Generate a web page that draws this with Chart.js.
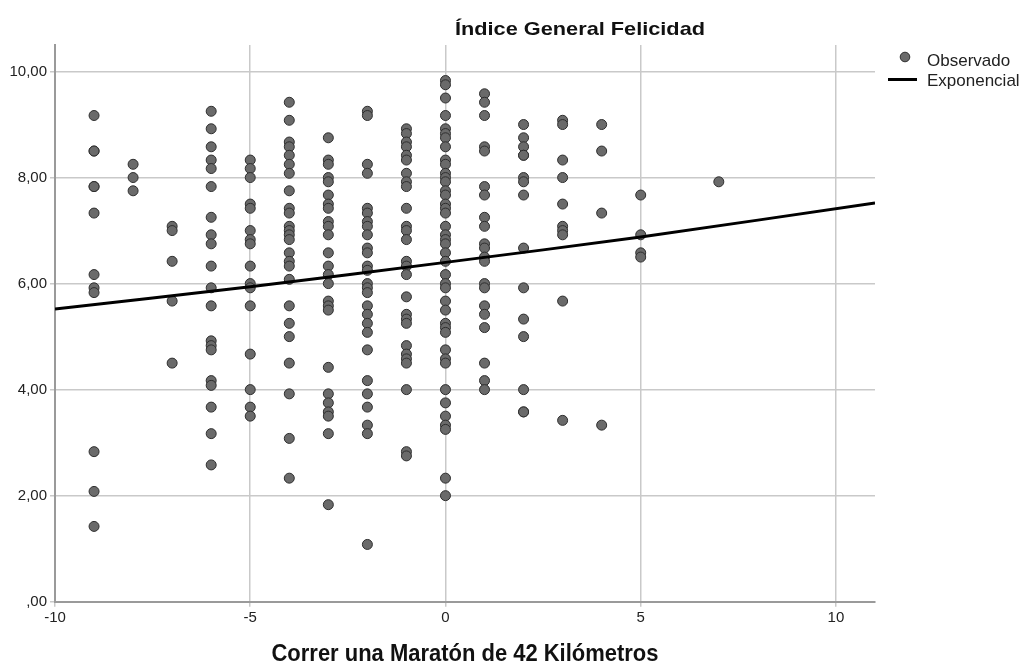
<!DOCTYPE html>
<html><head><meta charset="utf-8">
<script src="https://cdn.jsdelivr.net/npm/chart.js@4.4.0/dist/chart.umd.min.js"></script>
<style>html,body{margin:0;padding:0;background:#fff;}#wrap{width:1028px;height:671px;}</style>
</head><body><div id="wrap"><canvas id="c" width="1028" height="671"></canvas></div>
<script>
// ---- DATA ----
const xColumns = [-9, -8, -7, -6, -5, -4, -3, -2, -1, 0, 1, 2, 3, 4, 5, 7];
const happyM9 = [9.17, 8.5, 8.5, 7.83, 7.83, 7.33, 6.17, 5.92, 5.83, 2.83, 2.08, 1.42];
const happyM8 = [8.25, 8.0, 7.75];
const happyM7 = [7.08, 7.0, 6.42, 5.67, 4.5];
const happyM6 = [9.25, 8.92, 8.58, 8.33, 8.17, 7.83, 7.25, 6.92, 6.75, 6.33, 5.92, 5.58, 4.92, 4.83, 4.75, 4.17, 4.08, 3.67, 3.17, 2.58];
const happyM5 = [8.33, 8.17, 8.0, 7.5, 7.42, 7.0, 6.83, 6.75, 6.33, 6.0, 5.92, 5.58, 4.67, 4.0, 3.67, 3.5];
const happyM4 = [9.42, 9.08, 8.67, 8.58, 8.42, 8.25, 8.08, 7.75, 7.42, 7.33, 7.08, 7.0, 6.92, 6.83, 6.58, 6.42, 6.33, 6.08, 5.58, 5.25, 5.0, 4.5, 3.92, 3.08, 2.33];
const happyM3 = [8.75, 8.33, 8.25, 8.0, 7.92, 7.67, 7.5, 7.42, 7.17, 7.08, 6.92, 6.58, 6.33, 6.17, 6.0, 5.67, 5.58, 5.5, 4.42, 3.92, 3.75, 3.58, 3.5, 3.17, 1.83];
const happyM2 = [9.25, 9.17, 8.25, 8.08, 7.42, 7.33, 7.17, 7.08, 6.92, 6.67, 6.58, 6.33, 6.25, 6.0, 5.92, 5.83, 5.58, 5.42, 5.25, 5.08, 4.75, 4.17, 3.92, 3.67, 3.33, 3.17, 1.08];
const happyM1 = [8.92, 8.83, 8.67, 8.58, 8.42, 8.33, 8.08, 7.92, 7.83, 7.42, 7.08, 7.0, 6.83, 6.42, 6.33, 6.17, 5.75, 5.42, 5.33, 5.25, 4.83, 4.67, 4.58, 4.5, 4.0, 2.83, 2.75];
const happy0 = [9.83, 9.75, 9.5, 9.17, 8.92, 8.83, 8.75, 8.58, 8.33, 8.25, 8.08, 8.0, 7.92, 7.75, 7.67, 7.5, 7.42, 7.33, 7.08, 6.92, 6.83, 6.75, 6.58, 6.42, 6.17, 6.0, 5.92, 5.67, 5.5, 5.25, 5.17, 5.08, 4.75, 4.58, 4.5, 4.0, 3.75, 3.5, 3.33, 3.25, 2.33, 2.0];
const happyP1 = [9.58, 9.42, 9.17, 8.58, 8.5, 7.83, 7.67, 7.25, 7.08, 6.75, 6.67, 6.5, 6.42, 6.0, 5.92, 5.58, 5.42, 5.17, 4.5, 4.17, 4.0];
const happyP2 = [9.0, 8.75, 8.58, 8.42, 8.42, 8.0, 7.92, 7.67, 6.67, 5.92, 5.33, 5.0, 4.0, 3.58, 3.58];
const happyP3 = [9.08, 9.0, 8.33, 8.0, 7.5, 7.08, 7.0, 6.92, 5.67, 3.42];
const happyP4 = [9.0, 8.5, 7.33, 3.33];
const happyP5 = [7.67, 6.92, 6.58, 6.5];
const happyP7 = [7.92];
const columnValues = [happyM9, happyM8, happyM7, happyM6, happyM5, happyM4, happyM3, happyM2, happyM1, happy0, happyP1, happyP2, happyP3, happyP4, happyP5, happyP7];

const trendX = [-10, -5, 0, 5, 11];
const trendY = [5.52, 5.94, 6.40, 6.88, 7.52];

const xTicks = [-10, -5, 0, 5, 10];
const yTicks = [0, 2, 4, 6, 8, 10];
const yTickLabels = [',00', '2,00', '4,00', '6,00', '8,00', '10,00'];

const yTitle = 'Índice General Felicidad';
const xTitle = 'Correr una Maratón de 42 Kilómetros';
const legendLabels = ['Observado', 'Exponencial'];

// ---- BUILD ----
const observed = [];
xColumns.forEach((x, i) => columnValues[i].forEach(y => observed.push({x: x, y: y})));
const trend = trendX.map((x, i) => ({x: x, y: trendY[i]}));

const FONT = '"Liberation Sans", Arial, sans-serif';
const POINT_FILL = '#6a6a6a', POINT_BORDER = '#2e2e2e';

const decor = {
  id: 'decor',
  afterDraw(chart) {
    const ctx = chart.ctx;
    function fitText(txt, font, left, width, baseline) {
      ctx.save();
      ctx.font = font;
      ctx.fillStyle = '#111';
      ctx.textBaseline = 'alphabetic';
      ctx.textAlign = 'left';
      const w = ctx.measureText(txt).width;
      ctx.translate(left, baseline);
      ctx.scale(width / w, 1);
      ctx.fillText(txt, 0, 0);
      ctx.restore();
    }
    fitText(yTitle, 'bold 19px ' + FONT, 455, 250, 35);
    fitText(xTitle, 'bold 23px ' + FONT, 465 - 387 / 2, 387, 661);
    // legend
    ctx.save();
    ctx.beginPath();
    ctx.arc(905, 57, 4.8, 0, Math.PI * 2);
    ctx.fillStyle = POINT_FILL; ctx.fill();
    ctx.lineWidth = 1; ctx.strokeStyle = POINT_BORDER; ctx.stroke();
    ctx.beginPath();
    ctx.moveTo(888, 79.5); ctx.lineTo(917, 79.5);
    ctx.lineWidth = 3; ctx.strokeStyle = '#000'; ctx.stroke();
    ctx.font = '17px ' + FONT;
    ctx.fillStyle = '#222';
    ctx.textAlign = 'left'; ctx.textBaseline = 'alphabetic';
    ctx.fillText(legendLabels[0], 927, 66);
    ctx.fillText(legendLabels[1], 927, 86);
    ctx.restore();
  }
};

new Chart(document.getElementById('c'), {
  data: {
    datasets: [
      { type: 'line', label: legendLabels[1], data: trend, borderColor: '#000', borderWidth: 3,
        pointRadius: 0, fill: false, tension: 0.3, order: 0 },
      { type: 'scatter', label: legendLabels[0], data: observed, backgroundColor: POINT_FILL,
        borderColor: POINT_BORDER, borderWidth: 1, pointRadius: 5, pointHoverRadius: 5, order: 1 }
    ]
  },
  options: {
    responsive: false, animation: false, devicePixelRatio: 1,
    layout: { padding: { top: 45, right: 153, left: 0, bottom: 0 } },
    plugins: { legend: { display: false }, title: { display: false }, tooltip: { enabled: false } },
    scales: {
      x: {
        type: 'linear', min: -10, max: 11,
        afterBuildTicks: s => { s.ticks = xTicks.map(v => ({value: v})); },
        afterFit: s => { s.height = 69.3; },
        ticks: { callback: v => String(v), font: { family: FONT, size: 15 }, color: '#222', padding: 2, maxRotation: 0 },
        grid: { color: '#c9c9c9', lineWidth: 1.5, tickLength: 5, tickColor: '#c9c9c9' },
        border: { color: '#9a9a9a', width: 2 }
      },
      y: {
        type: 'linear', min: 0, max: 10.5,
        afterBuildTicks: s => { s.ticks = yTicks.map(v => ({value: v})); },
        afterFit: s => { s.width = 55; },
        ticks: { callback: (v, i) => yTickLabels[yTicks.indexOf(v)], font: { family: FONT, size: 15 }, color: '#222', padding: 3 },
        grid: { color: '#c9c9c9', lineWidth: 1.5, tickLength: 5, tickColor: '#c9c9c9' },
        border: { color: '#9a9a9a', width: 2 }
      }
    }
  },
  plugins: [decor]
});
</script>
</body></html>
